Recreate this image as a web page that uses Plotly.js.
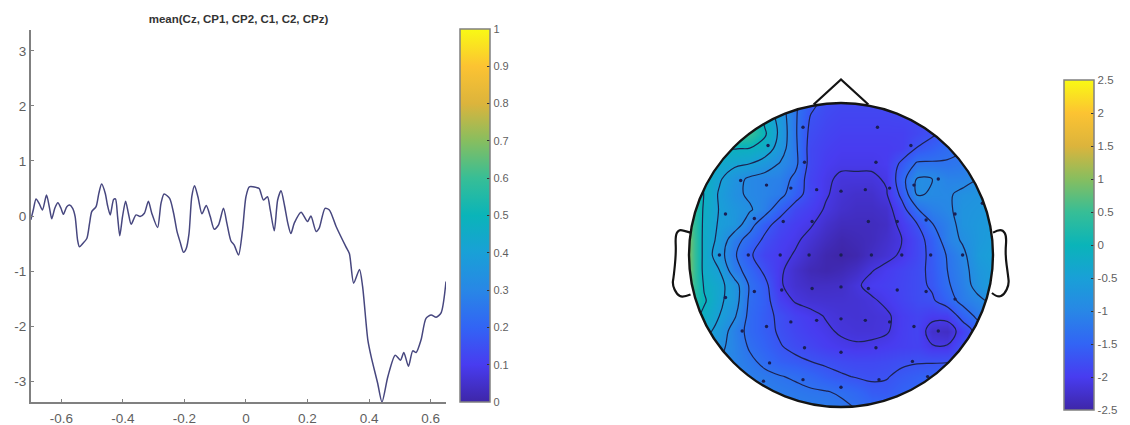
<!DOCTYPE html>
<html>
<head>
<meta charset="utf-8">
<script src="https://cdn.plot.ly/plotly-3.0.1.min.js"></script>
<style>html,body{margin:0;padding:0;background:#fff}#c{width:1130px;height:425px}</style>
</head>
<body>
<div id="c"></div>
<script>
const parula = [[0,'rgb(62,38,168)'],[0.1,'rgb(72,60,240)'],[0.2,'rgb(50,100,245)'],[0.3,'rgb(40,135,230)'],[0.4,'rgb(25,160,215)'],[0.5,'rgb(10,180,185)'],[0.6,'rgb(55,190,150)'],[0.7,'rgb(135,190,95)'],[0.8,'rgb(220,180,60)'],[0.9,'rgb(252,195,50)'],[1,'rgb(249,250,20)']];

const erpTime = [-0.699,-0.691,-0.682,-0.672,-0.661,-0.648,-0.638,-0.631,-0.621,-0.611,-0.601,-0.593,-0.582,-0.573,-0.563,-0.555,-0.547,-0.541,-0.530,-0.517,-0.508,-0.501,-0.487,-0.478,-0.469,-0.457,-0.450,-0.441,-0.430,-0.424,-0.417,-0.410,-0.401,-0.391,-0.382,-0.373,-0.357,-0.344,-0.330,-0.317,-0.306,-0.287,-0.276,-0.266,-0.248,-0.235,-0.224,-0.214,-0.203,-0.194,-0.185,-0.176,-0.167,-0.156,-0.143,-0.129,-0.116,-0.103,-0.089,-0.073,-0.062,-0.049,-0.038,-0.024,-0.011,0,0.011,0.033,0.043,0.057,0.070,0.079,0.092,0.103,0.114,0.125,0.136,0.146,0.157,0.179,0.200,0.211,0.228,0.238,0.257,0.271,0.293,0.325,0.336,0.350,0.369,0.379,0.396,0.407,0.428,0.442,0.461,0.485,0.502,0.513,0.528,0.542,0.553,0.569,0.585,0.602,0.618,0.634,0.650];
const erpValue = [-0.07,0.11,0.31,0.23,0.11,0.38,0.14,-0.05,0.14,0.24,0.14,0.03,0.17,0.2,0.14,-0.01,-0.44,-0.56,-0.5,-0.41,-0.13,0.08,0.17,0.41,0.58,0.41,0.2,0.02,0.3,0.31,-0.01,-0.36,-0.01,0.27,0.05,-0.15,0.02,-0.01,0.05,0.27,0.05,-0.21,0.23,0.4,0.32,0.05,-0.28,-0.47,-0.66,-0.59,-0.32,0.35,0.55,0.35,0.04,0.19,-0.01,-0.24,-0.16,0.14,-0.13,-0.45,-0.53,-0.71,-0.25,0.35,0.53,0.52,0.5,0.29,0.35,0.11,-0.27,0.29,0.46,0.2,-0.13,-0.32,-0.13,0.07,-0.1,0,-0.28,-0.22,0.14,0.11,-0.19,-0.56,-0.68,-1.22,-0.97,-1.28,-2.25,-2.56,-3.04,-3.38,-2.92,-2.53,-2.62,-2.48,-2.73,-2.45,-2.48,-2.25,-1.86,-1.8,-1.84,-1.76,-1.19];

const xTickVals = [-0.6,-0.4,-0.2,0,0.2,0.4,0.6];
const xTickText = ['-0.6','-0.4','-0.2','0','0.2','0.4','0.6'];
const yTickVals = [-3,-2,-1,0,1,2,3];
const yTickText = ['-3','-2','-1','0','1','2','3'];
const cb1Vals = [0,0.1,0.2,0.3,0.4,0.5,0.6,0.7,0.8,0.9,1];
const cb1Text = ['0','0.1','0.2','0.3','0.4','0.5','0.6','0.7','0.8','0.9','1'];
const cb2Vals = [-2.5,-2,-1.5,-1,-0.5,0,0.5,1,1.5,2,2.5];
const cb2Text = ['-2.5','-2','-1.5','-1','-0.5','0','0.5','1','1.5','2','2.5'];

const gridU = [-1.1,-1,-.9,-.8,-.7,-.6,-.5,-.4,-.3,-.2,-.1,0,.1,.2,.3,.4,.5,.6,.7,.8,.9,1,1.1];
const gridV = [1.1,1,.9,.8,.7,.6,.5,.4,.3,.2,.1,0,-.1,-.2,-.3,-.4,-.5,-.6,-.7,-.8,-.9,-1];
const topoZ = [
[.1,.1,.05,0,-.05,-.15,-.45,-.8,-1.25,-1.55,-1.7,-1.8,-1.8,-1.8,-1.8,-1.78,-1.75,-1.7,-1.65,-1.55,-1.45,-1.35,-1.25],
[.2,.2,.1,.05,.2,0,-.4,-.75,-1.25,-1.6,-1.8,-1.85,-1.85,-1.85,-1.85,-1.82,-1.8,-1.75,-1.7,-1.62,-1.5,-1.4,-1.3],
[.3,.3,.3,.5,.6,.3,-.2,-.65,-1.25,-1.73,-1.85,-1.9,-1.9,-1.9,-1.9,-1.88,-1.85,-1.8,-1.73,-1.65,-1.6,-1.5,-1.4],
[.6,.6,.6,.7,.65,.5,-.05,-.6,-1.25,-1.8,-1.9,-1.95,-1.95,-1.95,-1.95,-1.95,-1.85,-1.75,-1.6,-1.5,-1.35,-1.2,-1.1],
[.3,.2,.05,-.08,-.09,-.12,-.25,-.7,-1.22,-1.85,-1.95,-2,-2,-2,-2,-1.95,-1.68,-1.55,-1.38,-1.33,-1.25,-1.2,-1.1],
[.3,.2,-.1,-.3,-.42,-.5,-.7,-.93,-1.2,-1.85,-2,-2.05,-2.05,-2.05,-2,-1.62,-1.25,-1.25,-1.27,-1.2,-1.1,-1,-.95],
[.5,.3,-.15,-.45,-.75,-.97,-1.05,-1.1,-1.4,-1.9,-2.05,-2.15,-2.15,-2.15,-2.07,-1.45,-.88,-.9,-1.05,-1.05,-.9,-.8,-.7],
[.7,.5,-.12,-.55,-.8,-.97,-1.05,-1.17,-1.55,-1.85,-2.07,-2.2,-2.25,-2.25,-2.12,-1.6,-.87,-.93,-.96,-.8,-.75,-.7,-.7],
[.9,.7,-.18,-.52,-.7,-.85,-1.12,-1.55,-1.85,-1.97,-2.13,-2.25,-2.3,-2.3,-2.25,-1.85,-1.33,-1.1,-.98,-.75,-.7,-.65,-.65],
[1,.8,-.22,-.55,-.68,-1.15,-1.58,-1.85,-1.98,-2.07,-2.25,-2.35,-2.35,-2.35,-2.3,-2,-1.72,-1.32,-1.1,-.75,-.65,-.6,-.6],
[1,.9,-.25,-.6,-1.15,-1.45,-1.78,-1.95,-2.05,-2.2,-2.35,-2.45,-2.4,-2.35,-2.25,-2.1,-1.85,-1.55,-1.1,-.85,-.65,-.55,-.55],
[1,.9,-.25,-.72,-1.25,-1.65,-1.9,-2,-2.13,-2.3,-2.45,-2.5,-2.45,-2.3,-2.2,-2.05,-1.85,-1.6,-1.27,-1,-.6,-.5,-.5],
[1,.9,-.25,-.5,-1.15,-1.47,-1.78,-2.05,-2.25,-2.4,-2.45,-2.4,-2.3,-2.12,-2,-1.9,-1.8,-1.62,-1.3,-1.05,-.7,-.55,-.5],
[.9,.8,-.15,-.38,-.72,-1.35,-1.6,-2.07,-2.22,-2.3,-2.3,-2.28,-2.15,-2,-1.95,-1.88,-1.8,-1.65,-1.35,-1.1,-.75,-.55,-.5],
[.7,.5,-.05,-.42,-.7,-1.38,-1.57,-1.95,-2.13,-2.2,-2.22,-2.22,-2.2,-2.15,-2.03,-1.9,-1.8,-1.75,-1.5,-1.17,-1,-.8,-.7],
[.3,.1,-.2,-.5,-.85,-1.42,-1.6,-1.77,-1.93,-2.02,-2.12,-2.18,-2.2,-2.18,-2.15,-1.98,-1.9,-2,-1.98,-1.55,-1.2,-1.05,-.95],
[-.1,-.2,-.35,-.65,-1.08,-1.43,-1.58,-1.75,-1.88,-1.97,-2.05,-2.14,-2.17,-2.17,-2.13,-1.97,-1.9,-2.25,-2.3,-1.95,-1.55,-1.4,-1.3],
[-.4,-.5,-.65,-.8,-1.05,-1.35,-1.52,-1.68,-1.8,-1.88,-1.98,-2.03,-2.07,-2.05,-2,-1.95,-1.92,-2.08,-2.08,-1.75,-1.6,-1.45,-1.35],
[-.6,-.7,-.8,-.9,-1.05,-1.22,-1.4,-1.55,-1.62,-1.7,-1.76,-1.82,-1.85,-1.85,-1.82,-1.76,-1.73,-1.73,-1.72,-1.6,-1.5,-1.4,-1.3],
[-.7,-.8,-.9,-1,-1.05,-1.12,-1.2,-1.28,-1.35,-1.45,-1.58,-1.66,-1.72,-1.75,-1.72,-1.62,-1.55,-1.5,-1.45,-1.4,-1.35,-1.3,-1.25],
[-.8,-.85,-.9,-.95,-1,-1.05,-1.1,-1.15,-1.2,-1.25,-1.28,-1.35,-1.45,-1.6,-1.62,-1.5,-1.45,-1.4,-1.35,-1.3,-1.27,-1.22,-1.2],
[-.9,-.92,-.95,-.98,-1,-1.02,-1.05,-1.08,-1.1,-1.12,-1.15,-1.22,-1.32,-1.4,-1.45,-1.4,-1.35,-1.3,-1.28,-1.25,-1.22,-1.2,-1.18]
];

const elecU = [-.25,.24,.46,-.48,-.24,.23,.64,-.66,-.49,-.33,-.16,0,.16,.32,.48,-.76,-.57,-.38,-.19,.18,.37,.56,.75,-.80,-.61,-.40,-.21,0,.20,.40,.59,.80,-.76,-.57,-.39,-.19,0,.18,.37,.56,.75,-.65,-.49,-.33,-.16,0,.16,.32,.48,.64,-.47,-.24,0,.23,.47,-.25,.25,0,-.51,.57,-.95,.93];
const elecV = [.84,.84,.72,.72,.61,.61,.50,.49,.46,.44,.43,.42,.43,.44,.46,.27,.24,.22,.22,.22,.22,.23,.27,0,0,0,0,0,0,0,0,0,-.28,-.24,-.23,-.22,-.21,-.22,-.23,-.24,-.29,-.50,-.47,-.44,-.43,-.42,-.43,-.44,-.47,-.50,-.71,-.61,-.64,-.61,-.70,-.82,-.82,-.87,-.83,-.80,.34,.34];

const noseU = [-.18,0,.18];
const noseV = [.99,1.155,.99];
const earLU = [-.99,-1.04,-1.07,-1.09,-1.085,-1.1,-1.11,-1.08,-1.04,-.99];
const earLV = [.147,.164,.164,.125,.015,-.14,-.195,-.26,-.28,-.26];
const earRU = [1,1.03,1.065,1.09,1.08,1.1,1.105,1.075,1.03,.993];
const earRV = [.147,.164,.164,.125,.004,-.14,-.195,-.26,-.28,-.25];

function smoothPath(us, vs){
  let p = 'M' + us[0] + ',' + vs[0];
  for(let i=1;i<us.length-1;i++){
    const mu=(us[i]+us[i+1])/2, mv=(vs[i]+vs[i+1])/2;
    const last=i===us.length-2;
    p += 'Q' + us[i] + ',' + vs[i] + ' ' + (last?us[i+1]:mu) + ',' + (last?vs[i+1]:mv);
  }
  return p;
}
let maskPath = 'M-1.2,-1.1L1.2,-1.1L1.2,1.2L-1.2,1.2Z';
for(let a=0;a<360;a+=2){
  const t=a*Math.PI/180;
  maskPath += (a===0?'M':'L') + Math.cos(t).toFixed(4) + ',' + Math.sin(t).toFixed(4);
}
maskPath += 'Z';

const W=1130,H=425;
const txt='#5f5f5f', axc='#808080';
const fam='"Liberation Sans", Arial, sans-serif';

const traces = [
 {type:'scatter',mode:'lines',x:erpTime,y:erpValue,xaxis:'x',yaxis:'y',
  line:{color:'#47477f',width:1.5,shape:'spline',smoothing:0.7},hoverinfo:'skip',showlegend:false},
 {type:'scatter',mode:'markers',x:[-0.7,-0.7],y:[0,0],xaxis:'x',yaxis:'y',hoverinfo:'skip',showlegend:false,
  marker:{size:1,opacity:0,color:[0,1],cmin:0,cmax:1,colorscale:parula,showscale:true,
   colorbar:{x:460/W,xanchor:'left',xpad:0,y:1-29/H,yanchor:'top',ypad:0,len:373,lenmode:'pixels',thickness:30,thicknessmode:'pixels',
    tickmode:'array',tickvals:cb1Vals,ticktext:cb1Text,ticks:'inside',ticklen:3,tickcolor:'#333',tickfont:{family:fam,size:11,color:txt},
    outlinecolor:axc,outlinewidth:1.5,borderwidth:0}}},
 {type:'heatmap',x:gridU,y:gridV,z:topoZ,xaxis:'x2',yaxis:'y2',zmin:-2.5,zmax:2.5,zsmooth:'best',colorscale:parula,hoverinfo:'skip',
  colorbar:{x:1064/W,xanchor:'left',xpad:0,y:1-80/H,yanchor:'top',ypad:0,len:330,lenmode:'pixels',thickness:30,thicknessmode:'pixels',
    tickmode:'array',tickvals:cb2Vals,ticktext:cb2Text,tickprefix:'\u00a0',ticks:'inside',ticklen:3,tickcolor:'#333',tickfont:{family:fam,size:11.5,color:txt},
    outlinecolor:axc,outlinewidth:1.5,borderwidth:0}},
 {type:'contour',x:gridU,y:gridV,z:topoZ,xaxis:'x2',yaxis:'y2',autocontour:false,showscale:false,hoverinfo:'skip',
  contours:{start:-2.1,end:-0.1,size:0.4,coloring:'none'},line:{color:'#1c2350',width:1.2,smoothing:1}},
 {type:'scatter',mode:'markers',x:elecU,y:elecV,xaxis:'x2',yaxis:'y2',hoverinfo:'skip',showlegend:false,
  marker:{color:'#1a1f55',size:3.4}}
];

const layout = {
 width:W,height:H,margin:{l:0,r:0,t:0,b:0,pad:0},paper_bgcolor:'#fff',plot_bgcolor:'rgba(0,0,0,0)',showlegend:false,
 font:{family:fam,color:txt},
 title:{text:'<b>mean(Cz, CP1, CP2, C1, C2, CPz)</b>',font:{family:fam,size:11.5,color:'#333'},x:238.5/W,xref:'paper',xanchor:'center',y:1-19/H,yref:'paper',yanchor:'middle'},
 xaxis:{domain:[30.5/W,446/W],range:[-0.7,0.65],anchor:'y',showgrid:false,zeroline:false,tickmode:'array',tickvals:xTickVals,ticktext:xTickText,
  ticks:'inside',ticklen:3,tickcolor:axc,showline:true,linecolor:axc,linewidth:1.5,tickfont:{family:fam,size:13.5,color:txt},ticklabelstandoff:3},
 yaxis:{domain:[23/H,395/H],range:[-3.38,3.38],anchor:'x',showgrid:false,zeroline:false,tickmode:'array',tickvals:yTickVals,ticktext:yTickText,
  ticks:'inside',ticklen:3,tickcolor:axc,showline:true,linecolor:axc,linewidth:1.5,tickfont:{family:fam,size:13.5,color:txt}},
 xaxis2:{domain:[658.6/W,1023.4/W],range:[-1.2,1.2],anchor:'y2',visible:false},
 yaxis2:{domain:[2.8/H,352.4/H],range:[-1.1,1.2],anchor:'x2',visible:false},
 shapes:[
  {type:'path',xref:'x2',yref:'y2',path:maskPath,fillcolor:'#fff',line:{width:0},layer:'above'},
  {type:'circle',xref:'x2',yref:'y2',x0:-1,x1:1,y0:-1,y1:1,line:{color:'#141414',width:2.4},layer:'above'},
  {type:'path',xref:'x2',yref:'y2',path:'M'+noseU[0]+','+noseV[0]+'L'+noseU[1]+','+noseV[1]+'L'+noseU[2]+','+noseV[2],line:{color:'#141414',width:2.2},layer:'above'},
  {type:'path',xref:'x2',yref:'y2',path:smoothPath(earLU,earLV),line:{color:'#141414',width:2.2},layer:'above'},
  {type:'path',xref:'x2',yref:'y2',path:smoothPath(earRU,earRV),line:{color:'#141414',width:2.2},layer:'above'}
 ]
};
Plotly.newPlot('c',traces,layout,{displayModeBar:false,staticPlot:true});
</script>
</body>
</html>
